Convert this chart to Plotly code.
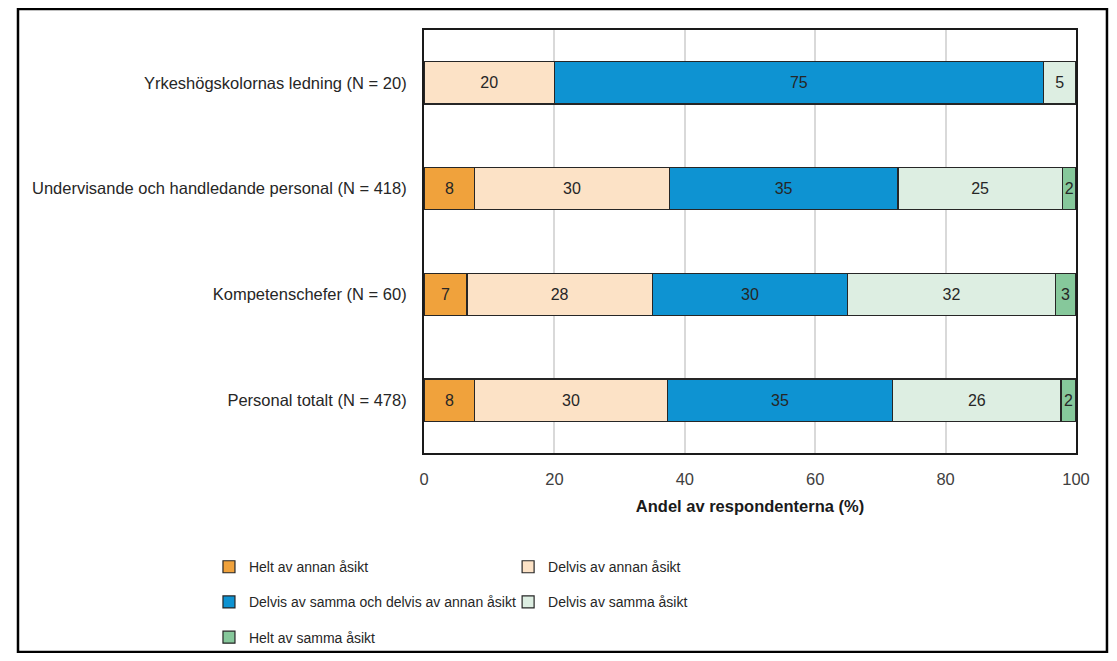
import plotly.graph_objects as go

categories = [
    "Yrkeshögskolornas ledning (N = 20)",
    "Undervisande och handledande personal (N = 418)",
    "Kompetenschefer (N = 60)",
    "Personal totalt (N = 478)",
]
series_names = [
    "Helt av annan åsikt",
    "Delvis av annan åsikt",
    "Delvis av samma och delvis av annan åsikt",
    "Delvis av samma åsikt",
    "Helt av samma åsikt",
]
helt_annan = [0.0, 7.8, 6.6, 7.8]
delvis_annan = [20.0, 29.8, 28.4, 29.5]
delvis_bada = [75.0, 35.1, 30.0, 34.6]
delvis_samma = [5.0, 25.2, 31.8, 25.8]
helt_samma = [0.0, 2.1, 3.2, 2.3]
x_ticks = [0, 20, 40, 60, 80, 100]

series_values = [helt_annan, delvis_annan, delvis_bada, delvis_samma, helt_samma]
colors = ["#F0A23C", "#FCE2C6", "#0E93D2", "#DDEEE2", "#86C89B"]
legend_ids = ["legend", "legend2", "legend", "legend2", "legend"]

FONT = "Liberation Sans Narrow, Arial Narrow, Liberation Sans, sans-serif"

fig = go.Figure()
for name, vals, col, lg in zip(series_names, series_values, colors, legend_ids):
    fig.add_trace(go.Bar(
        y=categories, x=vals, name=name, orientation="h",
        marker=dict(color=col, line=dict(color="#262626", width=1.2)),
        text=[f"{round(v)}" if v > 0 else "" for v in vals],
        textposition="inside", insidetextanchor="middle",
        textfont=dict(family=FONT, size=16, color="#262626"),
        constraintext="none",
        legend=lg, legendgroup=name,
    ))

leg_common = dict(y=-0.232, yanchor="top", orientation="v",
                  tracegroupgap=14, traceorder="grouped",
                  bgcolor="rgba(0,0,0,0)",
                  font=dict(family=FONT, size=14, color="#262626"))

fig.update_layout(
    barmode="stack", bargap=0.6,
    width=1101, height=645,
    margin=dict(l=416, r=33, t=22, b=200, autoexpand=False),
    paper_bgcolor="white", plot_bgcolor="white",
    font=dict(family=FONT, size=16.5, color="#262626"),
    showlegend=True,
    legend=dict(x=-0.3298, xanchor="left", **leg_common),
    legend2=dict(x=0.129, xanchor="left", **leg_common),
    xaxis=dict(range=[0, 100], tickvals=x_ticks, showgrid=True,
               gridcolor="#D9D9D9", gridwidth=1.5, zeroline=False,
               showline=True, mirror=True, linecolor="#1a1a1a", linewidth=2,
               ticks="", ticklabelstandoff=10,
               tickfont=dict(family=FONT, size=16.5, color="#404040"),
               title=dict(text="<b>Andel av respondenterna (%)</b>", standoff=14,
                          font=dict(family=FONT, size=16.5, color="#1a1a1a"))),
    yaxis=dict(autorange="reversed", showline=True, mirror=True,
               linecolor="#1a1a1a", linewidth=2, ticks="",
               ticklabelstandoff=12,
               tickfont=dict(family=FONT, size=16.5, color="#262626")),
    shapes=[dict(type="rect", xref="paper", yref="paper",
                 x0=-0.6227, x1=1.0475, y0=-0.4704, y1=1.0496,
                 line=dict(color="black", width=2.5))],
)

fig.write_html("out.html")
